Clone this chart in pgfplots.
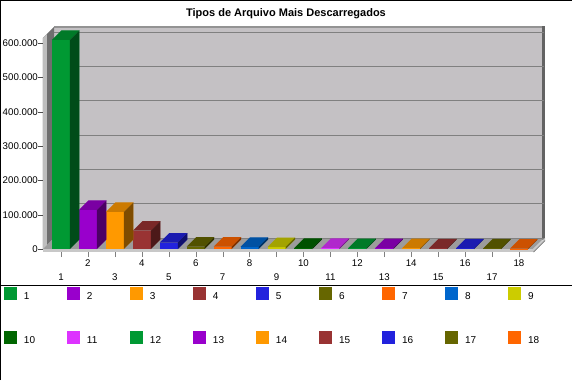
\documentclass[border=0pt]{standalone}
\usepackage{pgfplots}
\pgfplotsset{compat=1.18}
\usepackage{fontspec}
\setmainfont{Liberation Sans}
\definecolor{c1}{HTML}{009933}
\definecolor{c2}{HTML}{9900CC}
\definecolor{c3}{HTML}{FF9900}
\definecolor{c4}{HTML}{993333}
\definecolor{c5}{HTML}{2222DD}
\definecolor{c6}{HTML}{666600}
\definecolor{c7}{HTML}{FF6600}
\definecolor{c8}{HTML}{0066CC}
\definecolor{c9}{HTML}{CCCC00}
\definecolor{c10}{HTML}{006600}
\definecolor{c11}{HTML}{DD33FF}
\definecolor{c12}{HTML}{009933}
\definecolor{c13}{HTML}{9900CC}
\definecolor{c14}{HTML}{FF9900}
\definecolor{c15}{HTML}{993333}
\definecolor{c16}{HTML}{2222DD}
\definecolor{c17}{HTML}{666600}
\definecolor{c18}{HTML}{FF6600}
\definecolor{wall}{HTML}{C4C1C4}
\definecolor{floorc}{HTML}{9C9C9C}
\definecolor{edgec}{HTML}{C8C8C8}
\definecolor{darkw}{HTML}{6E6E6E}

\pgfdeclareplotmark{bar3d}{%
  \begingroup
  \pgfkeys{/pgf/fpu=true,/pgf/fpu/output format=fixed}%
  \pgfmathparse{\ry*210/611650}%
  \global\let\barh\pgfmathresult
  \endgroup
  \fill (-9pt,0pt) -- (9pt,0pt) -- (18.5pt,9.5pt) -- (0.5pt,9.5pt) -- cycle;
  \fill[black,opacity=0.2] (-9pt,0pt) -- (9pt,0pt) -- (18.5pt,9.5pt) -- (0.5pt,9.5pt) -- cycle;
  \fill (9pt,0pt) -- (18.5pt,9.5pt) -- (18.5pt,9.5pt-\barh pt) -- (9pt,-\barh pt) -- cycle;
  \fill[black,opacity=0.5] (9pt,0pt) -- (18.5pt,9.5pt) -- (18.5pt,9.5pt-\barh pt) -- (9pt,-\barh pt) -- cycle;
}

\pgfplotsset{
  bar3/.style={ybar, bar width=18pt, bar shift=0pt, draw=none, fill=#1,
    mark=bar3d, mark options={fill=#1, draw=none},
    visualization depends on=rawy \as \ry,
    legend image code/.code={\fill[fill=#1,draw=none] (0pt,-3pt) rectangle (13pt,10pt); \path (20pt,0pt);}},
}

\begin{document}
\begin{tikzpicture}[x=1pt,y=1pt]
% decorative 3D walls (canvas: axis SW at origin, 490 x 210)
\fill[gray!85] (11,11) rectangle (502,223);
\fill[wall] (11,11) rectangle (499,221);
\fill[darkw!90!black] (499,9) rectangle (502,223);
\fill[darkw] (0,0) -- (11,11) -- (11,222) -- (0,211) -- cycle;
\fill[edgec!95!black] (0,0) -- (4,0) -- (4,215) -- (0,211) -- cycle;
\fill[floorc] (0,0) -- (490,0) -- (501,11) -- (11,11) -- cycle;
\fill[edgec] (0,-3) rectangle (490,0);
\fill[edgec] (490,-3) -- (502,9) -- (502,11) -- (490,0) -- cycle;
\fill[darkw] (490,-3) -- (502,9) -- (502,8) -- (491,-3) -- cycle;

\begin{axis}[
  scale only axis, width=490pt, height=210pt,
  at={(0,0)}, anchor=south west,
  xmin=0.332, xmax=18.52, ymin=0, ymax=611650,
  clip=false,
  axis line style={draw=none},
  ymajorgrids, major grid style={draw=gray, line width=0.8pt, xshift=11pt, yshift=11pt},
  ytick={0,100000,200000,300000,400000,500000,600000},
  yticklabels={0,100.000,200.000,300.000,400.000,500.000,600.000},
  scaled y ticks=false,
  ytick pos=left, xtick pos=bottom,
  tick align=outside, major tick length=5pt,
  ytick style={draw=gray!60!black},
  xtick style={draw=gray, yshift=-3pt},
  ticklabel style={font=\fontsize{9.7}{12}\selectfont},
  yticklabel style={inner sep=0pt, anchor=east, xshift=0pt},
  xtick={1,3,5,7,9,11,13,15,17},
  xticklabels={1,3,5,7,9,11,13,15,17},
  xticklabel style={anchor=center, yshift=-23pt},
  extra x ticks={2,4,6,8,10,12,14,16,18},
  extra x tick labels={2,4,6,8,10,12,14,16,18},
  extra x tick style={xticklabel style={yshift=14pt}},
  legend columns=9,
  legend style={at={(axis description cs:0,0)}, anchor=north west, xshift=-39pt, yshift=-38pt,
    draw=none, fill=none, inner sep=0pt, outer sep=0pt, row sep=30pt, column sep=0pt,
    nodes={inner sep=0pt}, font=\fontsize{10}{12}\selectfont},
]
\addplot[bar3=c1] coordinates {(1,609000)};
\addlegendentry{\makebox[43pt][l]{1}}
\addplot[bar3=c2] coordinates {(2,113600)};
\addlegendentry{\makebox[43pt][l]{2}}
\addplot[bar3=c3] coordinates {(3,107800)};
\addlegendentry{\makebox[43pt][l]{3}}
\addplot[bar3=c4] coordinates {(4,53300)};
\addlegendentry{\makebox[43pt][l]{4}}
\addplot[bar3=c5] coordinates {(5,18400)};
\addlegendentry{\makebox[43pt][l]{5}}
\addplot[bar3=c6] coordinates {(6,7000)};
\addlegendentry{\makebox[43pt][l]{6}}
\addplot[bar3=c7] coordinates {(7,6600)};
\addlegendentry{\makebox[43pt][l]{7}}
\addplot[bar3=c8] coordinates {(8,6200)};
\addlegendentry{\makebox[43pt][l]{8}}
\addplot[bar3=c9] coordinates {(9,5800)};
\addlegendentry{\makebox[43pt][l]{9}}
\addplot[bar3=c10] coordinates {(10,3500)};
\addlegendentry{\makebox[43pt][l]{10}}
\addplot[bar3=c11] coordinates {(11,3200)};
\addlegendentry{\makebox[43pt][l]{11}}
\addplot[bar3=c12] coordinates {(12,2900)};
\addlegendentry{\makebox[43pt][l]{12}}
\addplot[bar3=c13] coordinates {(13,2600)};
\addlegendentry{\makebox[43pt][l]{13}}
\addplot[bar3=c14] coordinates {(14,2300)};
\addlegendentry{\makebox[43pt][l]{14}}
\addplot[bar3=c15] coordinates {(15,2000)};
\addlegendentry{\makebox[43pt][l]{15}}
\addplot[bar3=c16] coordinates {(16,1800)};
\addlegendentry{\makebox[43pt][l]{16}}
\addplot[bar3=c17] coordinates {(17,1500)};
\addlegendentry{\makebox[43pt][l]{17}}
\addplot[bar3=c18] coordinates {(18,1200)};
\addlegendentry{\makebox[43pt][l]{18}}
\end{axis}

\node[font=\bfseries\fontsize{11}{13}\selectfont] at (243,235) {Tipos de Arquivo Mais Descarregados};
\draw[black, line width=1pt] (-43,-36) -- (529,-36);
\draw[black, line width=1pt] (-43,248.5) -- (529,248.5);
\draw[black, line width=1pt] (-42.5,-131) -- (-42.5,249);
\pgfresetboundingbox
\path (-43,-131) rectangle (529,249);
\end{tikzpicture}
\end{document}
